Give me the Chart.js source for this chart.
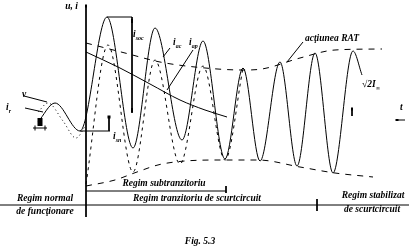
<!DOCTYPE html>
<html>
<head>
<meta charset="utf-8">
<script src="https://cdn.jsdelivr.net/npm/chart.js@4.4.0/dist/chart.umd.min.js"></script>
<style>
html, body { margin: 0; padding: 0; background: #fff; }
</style>
</head>
<body>
<canvas id="fig" width="409" height="248"></canvas>
<script>
// values: t counted from the fault instant, i upwards from the zero line
const totalT = [-48, -31, -6, 21, 47, 69, 96, 117, 139, 157, 174, 194, 211, 229, 247, 267, 276];
const totalI = [-6, 13, -15, 99, -32, 88, -24, 75, -43, 48, -45, 54, -50, 63, -57, 65, 41];

const acT = [0, 22, 47, 69, 94, 117, 139, 157];
const acI = [-68, 71, -56, 56, -48, 50, -44, 48];

const apT = [0, 34, 64, 94, 119, 141];
const apI = [64, 48, 32, 16, 6, -1];

const upperT = [0, 39, 74, 109, 157, 176, 214, 249, 296];
const upperI = [73, 63, 54, 49, 46, 47, 58, 66, 67];

const lowerT = [0, 29, 51, 76, 134, 172, 214, 249, 287];
const lowerI = [-70, -64, -56, -48, -44, -44, -51, -57, -61];

const voltT = [-48, -38, -23, -10, 0];
const voltI = [4, 13, -5, -22, -9];

const pts = (ts, is) => ts.map((t, k) => ({ x: t, y: is[k] }));

function curve(ts, is, dash) {
    return {
        data: pts(ts, is),
        borderColor: "#000",
        borderWidth: 1,
        borderDash: dash || [],
        pointRadius: 0,
        cubicInterpolationMode: "monotone",
        fill: false,
    };
}

function seg(a, b, dash) {
    return {
        data: [{ x: a[0], y: a[1] }, { x: b[0], y: b[1] }],
        borderColor: "#000",
        borderWidth: 1,
        borderDash: dash || [],
        pointRadius: 0,
        tension: 0,
        fill: false,
    };
}

// guide lines, same units as the data
let guides = [
    seg([0, 111], [0, -101]),          // u,i axis
    seg([21, 99], [46, 99]),           // i_soc
    seg([46, 99], [46, 3]),
    seg([-6, -15], [24, -15]),         // i_ss
    seg([23, 0], [23, -15]),
    seg([84, 68], [77, 59]),           // i_ac pointer
    seg([107, 66], [81, 26]),          // i_ap pointer
    seg([217, 74], [201, 54]),         // RAT pointer
    seg([-62, 20], [-39, 14]),         // v pointer
    seg([-61, 8], [-43, 4]),           // i_r pointer
    seg([266, 8], [266, 0]),
    seg([311, -4], [319, -4]),         // t arrow
    seg([-86, -89], [323, -89]),       // region lines
    seg([0, -75], [140, -75]),
    seg([140, -70], [140, -77]),
    seg([231, -83], [231, -95]),
    seg([-53, -12], [-39, -12]),       // phase marker
];

let datasets = [
    curve(totalT, totalI),
    curve(acT, acI, [3, 4]),
    curve(apT, apI),
    curve(upperT, upperI, [6, 6]),
    curve(lowerT, lowerI, [6, 6]),
    curve(voltT, voltI, [1, 3]),
].concat(guides);

// texts: [text, subscript, t, i, align]
const labels = [
    ["u, i", "", -8, 109, "right"],
    ["i", "soc", 47, 81, "left"],
    ["i", "ac", 87, 73, "left"],
    ["i", "ap", 103, 73, "left"],
    ["acţiunea RAT", "", 219, 77, "left"],
    ["√2I", "∞", 276, 31, "left"],
    ["t", "", 314, 8, "left"],
    ["v", "", -64, 21, "left"],
    ["i", "r", -80, 8, "left"],
    ["i", "sn", 27, -21, "left"],
    ["Regim subtranzitoriu", "", 78, -68, "center"],
    ["Regim tranzitoriu de scurtcircuit", "", 111, -83, "center"],
    ["Regim normal", "", -41, -83, "center"],
    ["de funcţionare", "", -41, -96, "center"],
    ["Regim stabilizat", "", 287, -80, "center"],
    ["de scurtcircuit", "", 286, -94, "center"],
    ["Fig. 5.3", "", 114, -126, "center"],
];

const annotate = {
    id: "annotate",
    afterDatasetsDraw(chart) {
        const { ctx, scales } = chart;
        ctx.save();
        ctx.fillStyle = "#000";
        ctx.textBaseline = "middle";
        labels.forEach(([txt, sub, t, i, align]) => {
            let px = scales.x.getPixelForValue(t);
            let py = scales.y.getPixelForValue(i);
            ctx.font = "bold italic 9.5px 'Liberation Serif'";
            let w = ctx.measureText(txt).width;
            ctx.font = "bold italic 6px 'Liberation Serif'";
            let ws = sub ? ctx.measureText(sub).width : 0;
            let x0 = px;
            if (align === "center") x0 = px - (w + ws) / 2;
            if (align === "right") x0 = px - w - ws;
            ctx.textAlign = "left";
            ctx.font = "bold italic 9.5px 'Liberation Serif'";
            ctx.fillText(txt, x0, py);
            if (sub) {
                ctx.font = "bold italic 6px 'Liberation Serif'";
                ctx.fillText(sub, x0 + w, py + 3);
            }
        });
        // small filled marks
        const box = (t, i, w, h) => {
            let px = scales.x.getPixelForValue(t);
            let py = scales.y.getPixelForValue(i);
            ctx.fillRect(px - w / 2, py - h / 2, w, h);
        };
        box(0, 110, 2, 3);
        box(46, 95, 2, 4);
        box(46, 6, 2, 4);
        box(23, -1, 3, 3);
        box(266, 7, 2, 3);
        box(311, -4, 3, 2);
        box(-46, -6, 5, 8);
        box(-51, -12, 1, 5);
        box(-41, -12, 1, 5);
        ctx.restore();
    },
};

new Chart(document.getElementById("fig").getContext("2d"), {
    type: "line",
    data: { datasets: datasets },
    options: {
        responsive: false,
        devicePixelRatio: 1,
        animation: false,
        layout: { padding: 0 },
        scales: {
            x: { type: "linear", min: -86, max: 323, display: false },
            y: { type: "linear", min: -132, max: 116, display: false },
        },
        plugins: {
            legend: { display: false },
            tooltip: { enabled: false },
        },
    },
    plugins: [annotate],
});
</script>
</body>
</html>
